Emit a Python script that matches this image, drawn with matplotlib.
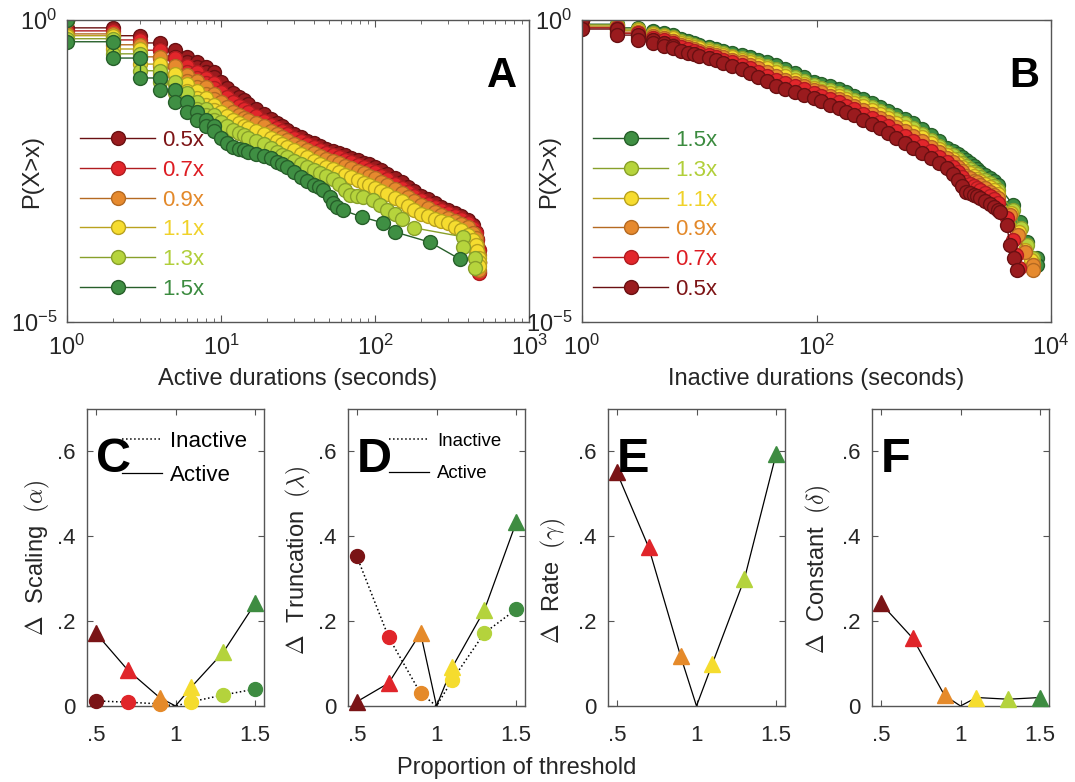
import matplotlib
matplotlib.use("Agg")
import matplotlib.pyplot as plt
from matplotlib.lines import Line2D
from matplotlib.ticker import FixedLocator, NullLocator, LogLocator, LogFormatterSciNotation
import numpy as np

plt.rcParams['font.family'] = ['Liberation Sans', 'DejaVu Sans']
plt.rcParams['mathtext.fontset'] = 'cm'

labels = ['0.5x', '0.7x', '0.9x', '1.1x', '1.3x', '1.5x']
face = ['#9a1b1e', '#e2262b', '#e68a2e', '#f6dc2f', '#b6d43c', '#3f8f43']
edge = ['#6a1012', '#b01c20', '#b56a22', '#b9a21e', '#88a02a', '#275f2a']
txtc = ['#7d1416', '#dd1c22', '#e3892a', '#f0d22a', '#b1cf3a', '#3b8b3f']
dotc = ['#7a1416', '#e0252a', '#e58a2a', '#f5dc2e', '#b4d33c', '#3e8c41']

# ---- panel A: active durations, CCDF as log10 P(X>x) ----
# each integer second is a vertical run of samples: P(X>=k) down to P(X>k)
act_cols = [1, 2, 3, 4, 5, 6, 7, 8, 9]
act_col_logp = [
    [-0.13, -0.26, -0.38, -0.50, -0.61, -0.70, -0.78, -0.86, -0.94],
    [-0.18, -0.33, -0.50, -0.63, -0.76, -0.86, -0.96, -1.04, -1.13],
    [-0.23, -0.41, -0.61, -0.76, -0.91, -1.01, -1.11, -1.23, -1.31],
    [-0.26, -0.48, -0.73, -0.89, -1.06, -1.18, -1.29, -1.41, -1.49],
    [-0.31, -0.56, -0.84, -1.03, -1.21, -1.36, -1.47, -1.57, -1.66],
    [-0.36, -0.63, -0.96, -1.16, -1.36, -1.52, -1.66, -1.76, -1.84],
]
act_xa = [10, 11, 12, 13, 14, 15, 17, 19, 21, 23, 25, 27, 30, 33, 36, 40, 44, 48,
          53, 58, 64, 70, 77, 85, 92, 100, 110, 120, 135, 150, 165, 180, 200, 220,
          245, 270, 300, 330, 360, 400, 430, 450, 460, 470, 470, 470]
act_tail_x = [
    act_xa, act_xa, act_xa, act_xa,
    [10, 11, 12, 13, 14, 15, 17, 19, 21, 23, 25, 27, 30, 33, 36, 40, 44, 48, 53,
     58, 64, 69, 76, 84, 97, 108, 120, 135, 150, 178, 373, 373, 446, 446],
    [10, 11, 12, 13, 14, 15, 17, 19, 21, 23, 25, 27, 30, 33, 36, 40, 43, 46, 51,
     53, 57, 62, 82, 113, 135, 228, 356],
]
act_tail_logp = [
    [-1.03, -1.12, -1.21, -1.27, -1.33, -1.39, -1.47, -1.55, -1.64, -1.71, -1.76,
     -1.82, -1.88, -1.94, -2.00, -2.04, -2.08, -2.13, -2.17, -2.20, -2.24, -2.28,
     -2.32, -2.36, -2.39, -2.43, -2.49, -2.55, -2.61, -2.68, -2.76, -2.83, -2.91,
     -2.97, -3.03, -3.09, -3.15, -3.20, -3.25, -3.31, -3.40, -3.51, -3.62, -3.81,
     -4.00, -4.17],
    [-1.19, -1.28, -1.36, -1.42, -1.47, -1.52, -1.59, -1.67, -1.74, -1.79, -1.84,
     -1.89, -1.95, -2.00, -2.05, -2.10, -2.15, -2.20, -2.24, -2.27, -2.31, -2.35,
     -2.40, -2.44, -2.48, -2.52, -2.58, -2.64, -2.71, -2.78, -2.85, -2.91, -2.98,
     -3.04, -3.10, -3.15, -3.20, -3.25, -3.30, -3.36, -3.44, -3.53, -3.65, -3.81,
     -4.00, -4.19],
    [-1.36, -1.44, -1.52, -1.57, -1.62, -1.66, -1.71, -1.76, -1.83, -1.89, -1.94,
     -1.99, -2.05, -2.10, -2.15, -2.20, -2.25, -2.30, -2.34, -2.37, -2.41, -2.45,
     -2.50, -2.54, -2.58, -2.62, -2.68, -2.74, -2.80, -2.86, -2.93, -2.99, -3.06,
     -3.12, -3.18, -3.23, -3.28, -3.33, -3.38, -3.43, -3.52, -3.61, -3.72, -3.89,
     -4.02, -4.14],
    [-1.52, -1.59, -1.66, -1.71, -1.75, -1.79, -1.84, -1.89, -1.95, -2.01, -2.06,
     -2.10, -2.16, -2.22, -2.27, -2.33, -2.38, -2.43, -2.47, -2.51, -2.56, -2.60,
     -2.65, -2.70, -2.74, -2.78, -2.83, -2.88, -2.94, -3.00, -3.08, -3.14, -3.21,
     -3.25, -3.29, -3.33, -3.36, -3.42, -3.48, -3.56, -3.64, -3.73, -3.82, -3.94,
     -4.00, -4.07],
    [-1.69, -1.76, -1.82, -1.87, -1.91, -1.95, -2.00, -2.05, -2.12, -2.18, -2.23,
     -2.27, -2.33, -2.39, -2.44, -2.49, -2.54, -2.59, -2.64, -2.72, -2.82, -2.90,
     -2.91, -2.93, -2.98, -3.07, -3.15, -3.22, -3.30, -3.44, -3.59, -3.76, -3.94,
     -4.11],
    [-1.95, -2.03, -2.10, -2.13, -2.16, -2.19, -2.22, -2.25, -2.29, -2.35, -2.39,
     -2.43, -2.52, -2.60, -2.66, -2.73, -2.77, -2.82, -2.93, -3.03, -3.09, -3.15,
     -3.26, -3.36, -3.51, -3.68, -3.96],
]

# ---- panel B: inactive durations ----
inact_cols = [1, 2, 3, 4, 5, 6]
inact_col_logp = [
    [-0.15, -0.25, -0.33, -0.38, -0.43, -0.46],
    [-0.13, -0.22, -0.30, -0.33, -0.38, -0.41],
    [-0.12, -0.20, -0.26, -0.30, -0.35, -0.38],
    [-0.10, -0.17, -0.23, -0.26, -0.30, -0.35],
    [-0.08, -0.15, -0.22, -0.25, -0.28, -0.31],
    [-0.07, -0.13, -0.18, -0.22, -0.25, -0.28],
]
inact_mid_x = [7, 8, 9, 10, 12, 14, 16, 19, 23, 27, 32, 38, 45, 54, 65, 78, 95,
               110, 130, 155, 180, 210, 250, 300, 350, 410, 480, 570, 670, 800,
               950, 1100, 1300, 1450, 1600, 1750, 1900, 2050, 2200, 2350, 2500,
               2750, 3000, 3250, 3500]
inact_mid_logp = [
    [-0.51, -0.54, -0.57, -0.60, -0.63, -0.67, -0.71, -0.76, -0.81, -0.87, -0.94,
     -1.01, -1.09, -1.14, -1.19, -1.24, -1.29, -1.34, -1.40, -1.46, -1.52, -1.58,
     -1.65, -1.72, -1.79, -1.87, -1.95, -2.03, -2.12, -2.20, -2.28, -2.36, -2.45,
     -2.55, -2.65, -2.75, -2.85, -2.87, -2.90, -2.92, -2.95, -3.00, -3.05, -3.10,
     -3.15],
    [-0.45, -0.48, -0.51, -0.55, -0.58, -0.62, -0.66, -0.70, -0.75, -0.80, -0.86,
     -0.92, -0.99, -1.04, -1.10, -1.15, -1.21, -1.26, -1.31, -1.36, -1.42, -1.48,
     -1.55, -1.62, -1.69, -1.76, -1.84, -1.92, -2.00, -2.08, -2.17, -2.26, -2.35,
     -2.43, -2.52, -2.60, -2.68, -2.71, -2.75, -2.78, -2.81, -2.86, -2.92, -2.97,
     -3.03],
    [-0.41, -0.44, -0.48, -0.51, -0.55, -0.58, -0.62, -0.66, -0.70, -0.75, -0.80,
     -0.86, -0.93, -0.99, -1.05, -1.10, -1.16, -1.20, -1.25, -1.30, -1.36, -1.42,
     -1.49, -1.55, -1.62, -1.69, -1.77, -1.84, -1.92, -2.01, -2.10, -2.19, -2.28,
     -2.35, -2.43, -2.50, -2.58, -2.62, -2.66, -2.69, -2.73, -2.78, -2.84, -2.89,
     -2.95],
    [-0.38, -0.41, -0.44, -0.47, -0.51, -0.54, -0.58, -0.62, -0.66, -0.70, -0.75,
     -0.80, -0.86, -0.92, -0.99, -1.06, -1.13, -1.17, -1.21, -1.26, -1.31, -1.37,
     -1.43, -1.49, -1.56, -1.63, -1.70, -1.77, -1.85, -1.94, -2.04, -2.14, -2.24,
     -2.30, -2.37, -2.43, -2.50, -2.54, -2.59, -2.63, -2.67, -2.72, -2.77, -2.82,
     -2.88],
    [-0.35, -0.38, -0.41, -0.44, -0.48, -0.51, -0.55, -0.59, -0.63, -0.67, -0.71,
     -0.76, -0.81, -0.87, -0.94, -1.01, -1.08, -1.12, -1.16, -1.21, -1.26, -1.32,
     -1.38, -1.44, -1.51, -1.57, -1.64, -1.71, -1.79, -1.88, -1.98, -2.08, -2.19,
     -2.24, -2.30, -2.36, -2.42, -2.46, -2.51, -2.55, -2.60, -2.65, -2.70, -2.75,
     -2.81],
    [-0.31, -0.34, -0.38, -0.41, -0.45, -0.48, -0.51, -0.54, -0.58, -0.62, -0.66,
     -0.70, -0.75, -0.81, -0.88, -0.95, -1.03, -1.06, -1.10, -1.14, -1.19, -1.25,
     -1.31, -1.37, -1.44, -1.50, -1.57, -1.64, -1.71, -1.81, -1.91, -2.01, -2.12,
     -2.17, -2.22, -2.27, -2.32, -2.37, -2.42, -2.47, -2.52, -2.57, -2.62, -2.67,
     -2.73],
]
inact_end_x = [
    [3700, 4200, 4470, 4800, 5100],
    [4200, 4700, 5000, 5300],
    [4500, 5200, 6000, 7000, 7050],
    [4600, 5300, 6000, 6800, 7000],
    [4700, 5500, 6300, 7000, 7000],
    [4750, 5450, 6270, 7600, 7600],
]
inact_end_logp = [
    [-3.18, -3.40, -3.73, -3.94, -4.14],
    [-3.28, -3.64, -3.89, -4.11],
    [-3.23, -3.56, -3.84, -4.06, -4.14],
    [-3.20, -3.51, -3.81, -3.97, -4.06],
    [-3.15, -3.44, -3.73, -3.94, -4.02],
    [-3.06, -3.34, -3.68, -3.94, -4.06],
]

# ---- panels C-F: change in fitted parameters vs threshold ----
thr = [0.5, 0.7, 0.9, 1.0, 1.1, 1.3, 1.5]
scal_act = [0.172, 0.085, 0.020, 0.0, 0.045, 0.127, 0.242]
scal_inact = [0.012, 0.009, 0.005, 0.0, 0.010, 0.026, 0.040]
trunc_act = [0.010, 0.054, 0.172, 0.0, 0.092, 0.226, 0.433]
trunc_inact = [0.353, 0.162, 0.030, 0.0, 0.062, 0.172, 0.228]
rate_act = [0.551, 0.374, 0.118, 0.0, 0.100, 0.299, 0.595]
const_act = [0.242, 0.160, 0.025, 0.0, 0.020, 0.016, 0.020]

SPINE = '#555555'
TXT = '#262626'


def ccdf_path(cols, col_logp, tail_x, tail_logp):
    xs, ys, prev = [], [], 0.0
    for k, lp in zip(cols, col_logp):
        xs += [k, k]
        ys += [prev, lp]
        prev = lp
    xs += list(tail_x)
    ys += list(tail_logp)
    return np.array(xs, float), 10.0 ** np.array(ys)


def style(ax, size=16):
    for s in ax.spines.values():
        s.set_color(SPINE)
        s.set_linewidth(1.0)
    ax.tick_params(which='both', direction='in', top=True, right=True,
                   color=SPINE, labelcolor=TXT, labelsize=size)
    ax.tick_params(which='major', length=5)
    ax.tick_params(which='minor', length=3)


fig = plt.figure(figsize=(10.75, 7.82), dpi=100)
W, H = 1075.0, 782.0


def box(l, t, r, b):
    return [l / W, 1 - b / H, (r - l) / W, (b - t) / H]


axA = fig.add_axes(box(67, 20, 529, 322))
axB = fig.add_axes(box(582, 20, 1051, 322))

# A: 0.5x drawn first, 1.5x on top
for i in range(6):
    xs, ps = ccdf_path(act_cols, act_col_logp[i], act_tail_x[i], act_tail_logp[i])
    axA.plot(xs, ps, '-o', color=edge[i], lw=1, ms=10, mfc=face[i], mec=edge[i],
             mew=1, label=labels[i])

# B: 1.5x drawn first, 0.5x on top
for i in range(5, -1, -1):
    tx = inact_mid_x + inact_end_x[i]
    tl = inact_mid_logp[i] + inact_end_logp[i]
    xs, ps = ccdf_path(inact_cols, inact_col_logp[i], tx, tl)
    axB.plot(xs, ps, '-o', color=edge[i], lw=1, ms=10, mfc=face[i], mec=edge[i],
             mew=1, label=labels[i])

for ax, xmax, xl in [(axA, 1e3, 'Active durations (seconds)'),
                     (axB, 1e4, 'Inactive durations (seconds)')]:
    ax.set_xscale('log')
    ax.set_yscale('log')
    ax.set_xlim(1, xmax)
    ax.set_ylim(1e-5, 1)
    ax.yaxis.set_major_locator(FixedLocator([1e-5, 1]))
    ax.yaxis.set_major_formatter(LogFormatterSciNotation())
    ax.yaxis.set_minor_locator(NullLocator())
    style(ax, 17)
    ax.tick_params(axis='x', pad=9)
    ax.tick_params(axis='y', pad=7)
    ax.set_xlabel(xl, fontsize=17, color=TXT, labelpad=6)
    ax.set_ylabel('P(X>x)', fontsize=17, color=TXT)

axA.xaxis.set_major_locator(FixedLocator([1, 10, 100, 1000]))
axA.xaxis.set_minor_locator(LogLocator(base=10, subs=np.arange(2, 10)))
axB.xaxis.set_major_locator(FixedLocator([1, 100, 10000]))
axB.xaxis.set_minor_locator(NullLocator())
axA.yaxis.set_label_coords(-0.052, 0.5)
axB.yaxis.set_label_coords(-0.047, 0.5)

axA.text(0.975, 0.88, 'A', transform=axA.transAxes, ha='right', va='top',
         fontsize=30, fontweight='bold')
axB.text(0.975, 0.88, 'B', transform=axB.transAxes, ha='right', va='top',
         fontsize=30, fontweight='bold')

for ax, xa in [(axA, 0.028), (axB, 0.023)]:
    leg = ax.legend(loc='upper left', bbox_to_anchor=(xa, 0.635), frameon=False,
                    fontsize=16, handlelength=3.4, handletextpad=0.3,
                    labelspacing=0.39, borderpad=0, borderaxespad=0, numpoints=1)
    for t in leg.get_texts():
        t.set_color(txtc[labels.index(t.get_text())])

# ---- bottom row ----
lefts = [87, 348, 608, 872]
axes_b = [fig.add_axes(box(l, 409, l + 177, 706)) for l in lefts]
letters = ['C', 'D', 'E', 'F']
ylabels = [r'$\Delta$  Scaling  $(\alpha)$', r'$\Delta$  Truncation  $(\lambda)$',
           r'$\Delta$  Rate  $(\gamma)$', r'$\Delta$  Constant  $(\delta)$']
act_series = [scal_act, trunc_act, rate_act, const_act]
inact_series = [scal_inact, trunc_inact, None, None]
ylab_pos = [(-0.198, 0.50), (-0.198, 0.49), (-0.226, 0.42), (-0.22, 0.46)]

for j, ax in enumerate(axes_b):
    act = act_series[j]
    ina = inact_series[j]
    ax.plot(thr, act, '-', color='k', lw=0.9, zorder=2)
    if ina is not None:
        ax.plot(thr, ina, ':', color='k', lw=1.1, zorder=2)
    k = 0
    for t, v in zip(thr, act):
        if t == 1.0:
            continue
        ax.plot(t, v, '^', ms=12, color=dotc[k], mec=dotc[k], zorder=3, clip_on=False)
        k += 1
    if ina is not None:
        k = 0
        for t, v in zip(thr, ina):
            if t == 1.0:
                continue
            ax.plot(t, v, 'o', ms=10, color=dotc[k], mec=dotc[k], zorder=4, clip_on=False)
            k += 1
    ax.set_xlim(0.445, 1.555)
    ax.set_ylim(0, 0.7)
    ax.set_xticks([0.5, 1, 1.5])
    ax.set_xticklabels(['.5', '1', '1.5'])
    ax.set_yticks([0, 0.2, 0.4, 0.6])
    ax.set_yticklabels(['0', '.2', '.4', '.6'])
    style(ax, 16)
    ax.tick_params(which='major', length=4)
    ax.tick_params(axis='x', pad=14)
    ax.tick_params(axis='y', pad=8)
    ax.set_ylabel(ylabels[j], fontsize=17, color=TXT)
    ax.yaxis.set_label_coords(*ylab_pos[j])
    ax.text(0.05, 0.905, letters[j], transform=ax.transAxes, ha='left', va='top',
            fontsize=35, fontweight='bold', zorder=5)

handles = [Line2D([], [], color='k', ls=':', lw=1.1, label='Inactive'),
           Line2D([], [], color='k', ls='-', lw=0.9, label='Active')]
axes_b[0].legend(handles=handles, loc='upper left', bbox_to_anchor=(0.198, 0.925),
                 frameon=False, fontsize=16, handlelength=1.8, handletextpad=0.36,
                 labelspacing=0.58, borderpad=0, borderaxespad=0)
axes_b[1].legend(handles=handles, loc='upper left', bbox_to_anchor=(0.232, 0.92),
                 frameon=False, fontsize=13.4, handlelength=2.15, handletextpad=0.43,
                 labelspacing=0.83, borderpad=0, borderaxespad=0)

fig.text(517 / W, 1 - 768 / H, 'Proportion of threshold', ha='center', va='center',
         fontsize=17, color=TXT)

fig.savefig('out.png', dpi=100)
